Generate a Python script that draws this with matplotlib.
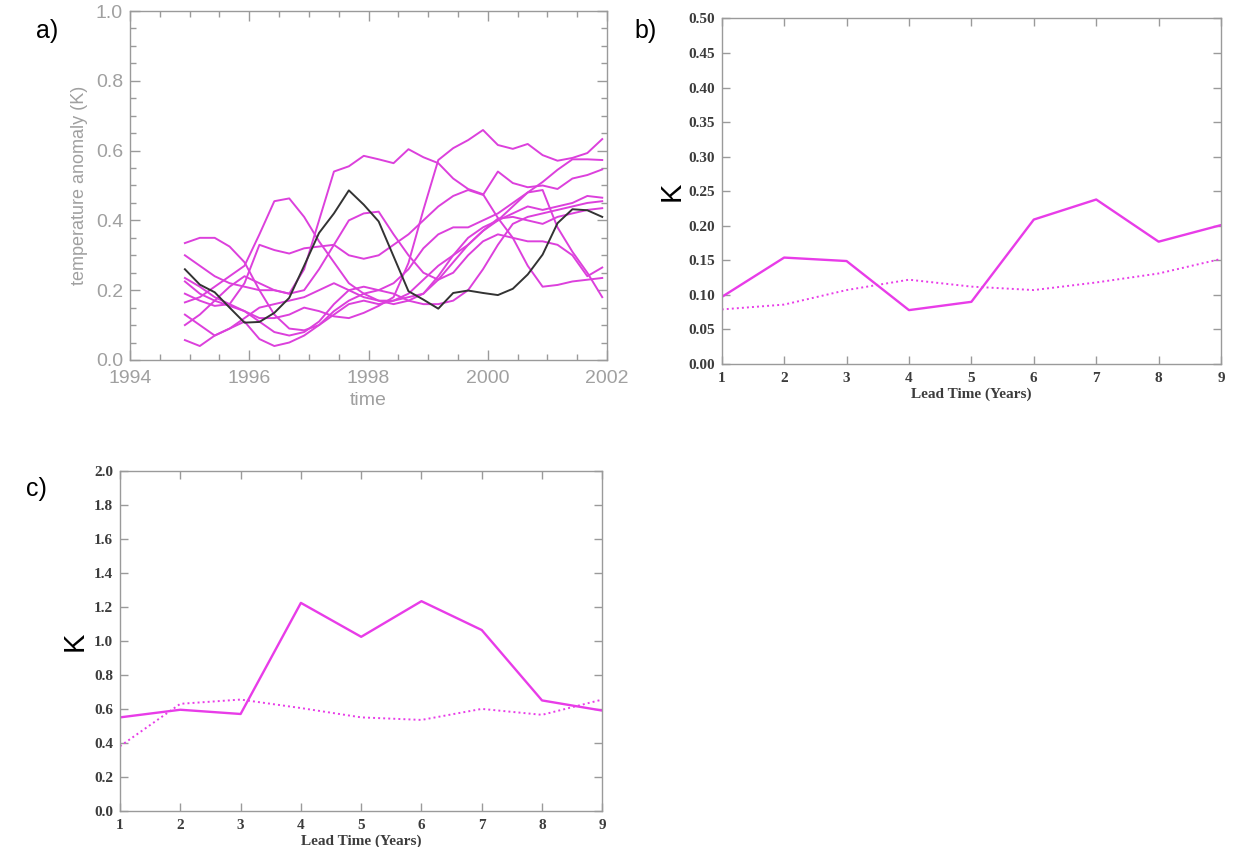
import numpy as np
import matplotlib
matplotlib.use('Agg')
import matplotlib.pyplot as plt
from matplotlib.ticker import MultipleLocator, FormatStrFormatter

# ---------------------------------------------------------------
# a) ensemble of temperature anomalies, quarterly from end of 1994
time = np.arange(29) * 0.25 + 1994.92

obs = [0.26, 0.216, 0.194, 0.15, 0.107, 0.109, 0.135, 0.178, 0.27, 0.364,
       0.42, 0.486, 0.445, 0.397, 0.297, 0.197, 0.173, 0.147, 0.192, 0.199,
       0.192, 0.186, 0.204, 0.245, 0.302, 0.392, 0.432, 0.429, 0.41]

ens1 = [0.19, 0.17, 0.155, 0.16, 0.14, 0.12, 0.12, 0.13, 0.15, 0.14,
        0.125, 0.12, 0.135, 0.155, 0.18, 0.278, 0.43, 0.573, 0.607, 0.63,
        0.659, 0.616, 0.605, 0.619, 0.587, 0.571, 0.579, 0.593, 0.633]
ens2 = [0.10, 0.13, 0.17, 0.21, 0.24, 0.22, 0.20, 0.19, 0.26, 0.40,
        0.54, 0.555, 0.585, 0.575, 0.564, 0.604, 0.581, 0.564, 0.52, 0.49,
        0.475, 0.407, 0.35, 0.27, 0.21, 0.215, 0.225, 0.23, 0.235]
ens3 = [0.165, 0.18, 0.21, 0.24, 0.27, 0.36, 0.455, 0.463, 0.41, 0.34,
        0.28, 0.22, 0.19, 0.17, 0.16, 0.17, 0.19, 0.23, 0.28, 0.33,
        0.37, 0.40, 0.44, 0.48, 0.487, 0.38, 0.31, 0.25, 0.18]
ens4 = [0.335, 0.35, 0.35, 0.325, 0.28, 0.20, 0.13, 0.09, 0.085, 0.10,
        0.13, 0.16, 0.17, 0.16, 0.17, 0.19, 0.23, 0.27, 0.30, 0.33,
        0.37, 0.405, 0.41, 0.40, 0.39, 0.41, 0.42, 0.43, 0.435]
ens5 = [0.30, 0.27, 0.24, 0.22, 0.21, 0.20, 0.20, 0.19, 0.20, 0.26,
        0.33, 0.40, 0.42, 0.425, 0.36, 0.30, 0.25, 0.23, 0.25, 0.30,
        0.34, 0.36, 0.35, 0.34, 0.34, 0.33, 0.30, 0.24, 0.265]
ens6 = [0.235, 0.21, 0.18, 0.16, 0.22, 0.33, 0.315, 0.305, 0.32, 0.325,
        0.33, 0.30, 0.29, 0.30, 0.33, 0.36, 0.40, 0.44, 0.47, 0.487,
        0.473, 0.54, 0.507, 0.495, 0.50, 0.49, 0.52, 0.53, 0.546]
ens7 = [0.225, 0.19, 0.17, 0.155, 0.14, 0.11, 0.08, 0.07, 0.08, 0.11,
        0.16, 0.20, 0.21, 0.20, 0.22, 0.26, 0.32, 0.36, 0.38, 0.38,
        0.40, 0.42, 0.45, 0.48, 0.51, 0.545, 0.575, 0.575, 0.573]
ens8 = [0.13, 0.10, 0.07, 0.09, 0.12, 0.15, 0.16, 0.17, 0.18, 0.20,
        0.22, 0.20, 0.18, 0.17, 0.17, 0.18, 0.19, 0.24, 0.30, 0.35,
        0.38, 0.40, 0.42, 0.44, 0.43, 0.44, 0.45, 0.47, 0.465]
ens9 = [0.057, 0.04, 0.07, 0.09, 0.11, 0.06, 0.04, 0.05, 0.07, 0.10,
        0.14, 0.17, 0.19, 0.20, 0.19, 0.17, 0.16, 0.16, 0.17, 0.20,
        0.26, 0.33, 0.39, 0.41, 0.42, 0.43, 0.44, 0.45, 0.455]
ensemble = [ens1, ens2, ens3, ens4, ens5, ens6, ens7, ens8, ens9]

# b) and c) error against lead time
lead = [1, 2, 3, 4, 5, 6, 7, 8, 9]
b_solid = [0.097, 0.154, 0.149, 0.078, 0.090, 0.209, 0.238, 0.177, 0.201]
b_dotted = [0.079, 0.086, 0.107, 0.122, 0.112, 0.107, 0.118, 0.131, 0.152]
c_solid = [0.55, 0.595, 0.57, 1.225, 1.025, 1.235, 1.065, 0.65, 0.59]
c_dotted = [0.38, 0.63, 0.655, 0.605, 0.55, 0.535, 0.60, 0.565, 0.655]

magenta = '#e83ce8'
axis_grey = '#9a9a9a'

fig = plt.figure(figsize=(12.35, 8.47), dpi=100)
fig.patch.set_facecolor('white')


def idl_frame(ax, color):
    for s in ax.spines.values():
        s.set_color(color)
        s.set_linewidth(1.0)
    ax.tick_params(which='both', direction='in', top=True, right=True,
                   color=color)
    ax.tick_params(which='major', length=7, width=1.0)
    ax.tick_params(which='minor', length=4, width=1.0)


# ---- panel a
ax1 = fig.add_axes([0.1053, 0.5750, 0.3862, 0.4120])
for ens in ensemble:
    ax1.plot(time, ens, color='#dc40dc', lw=1.4)
ax1.plot(time, obs, color='#333333', lw=1.4)
ax1.set_xlim(1994, 2002)
ax1.set_ylim(0, 1.0)
ax1.xaxis.set_major_locator(MultipleLocator(2))
ax1.xaxis.set_minor_locator(MultipleLocator(0.5))
ax1.yaxis.set_major_locator(MultipleLocator(0.2))
ax1.yaxis.set_minor_locator(MultipleLocator(0.05))
ax1.yaxis.set_major_formatter(FormatStrFormatter('%.1f'))
idl_frame(ax1, axis_grey)
ax1.tick_params(which='major', labelsize=14, labelcolor='#a0a0a0')
ax1.tick_params(axis='x', which='major', pad=7)
ax1.tick_params(axis='y', which='major', pad=5)
for lab in ax1.get_xticklabels() + ax1.get_yticklabels():
    lab.set_family('Liberation Sans')
ax1.set_xlabel('time', fontsize=14, color='#a0a0a0', family='Liberation Sans',
               labelpad=4)
ax1.set_ylabel('temperature anomaly (K)', fontsize=13, color='#a0a0a0',
               family='Liberation Sans', labelpad=6)

# ---- panel b
ax2 = fig.add_axes([0.5844, 0.5702, 0.4043, 0.4081])
ax2.plot(lead, b_solid, color=magenta, lw=1.7)
ax2.plot(lead, b_dotted, color=magenta, lw=1.4, linestyle=(0, (1, 1.6)))
ax2.set_xlim(1, 9)
ax2.set_ylim(0, 0.5)
ax2.xaxis.set_major_locator(MultipleLocator(1))
ax2.yaxis.set_major_locator(MultipleLocator(0.05))
ax2.yaxis.set_major_formatter(FormatStrFormatter('%.2f'))

# ---- panel c
ax3 = fig.add_axes([0.0972, 0.0429, 0.3905, 0.4005])
ax3.plot(lead, c_solid, color=magenta, lw=1.7)
ax3.plot(lead, c_dotted, color=magenta, lw=1.4, linestyle=(0, (1, 1.6)))
ax3.set_xlim(1, 9)
ax3.set_ylim(0, 2.0)
ax3.xaxis.set_major_locator(MultipleLocator(1))
ax3.yaxis.set_major_locator(MultipleLocator(0.2))
ax3.yaxis.set_major_formatter(FormatStrFormatter('%.1f'))

for ax, kpad in ((ax2, 2), (ax3, 4)):
    idl_frame(ax, axis_grey)
    ax.tick_params(which='major', length=6, labelsize=11, labelcolor='#3c3c3c')
    ax.tick_params(axis='x', which='major', pad=6)
    ax.tick_params(axis='y', which='major', pad=5)
    for lab in ax.get_xticklabels() + ax.get_yticklabels():
        lab.set_family('Liberation Serif')
        lab.set_weight('bold')
    ax.set_xlabel('Lead Time (Years)', fontsize=11, color='#3c3c3c',
                  family='Liberation Serif', weight='bold', labelpad=1.5)
    ax.set_ylabel('K', fontsize=21, family='Liberation Sans', labelpad=kpad)

# panel letters
fig.text(0.029, 0.977, 'a)', fontsize=18, family='Liberation Sans', va='top')
fig.text(0.514, 0.977, 'b)', fontsize=18, family='Liberation Sans', va='top')
fig.text(0.021, 0.437, 'c)', fontsize=18, family='Liberation Sans', va='top')

plt.savefig('out.png', dpi=100)
